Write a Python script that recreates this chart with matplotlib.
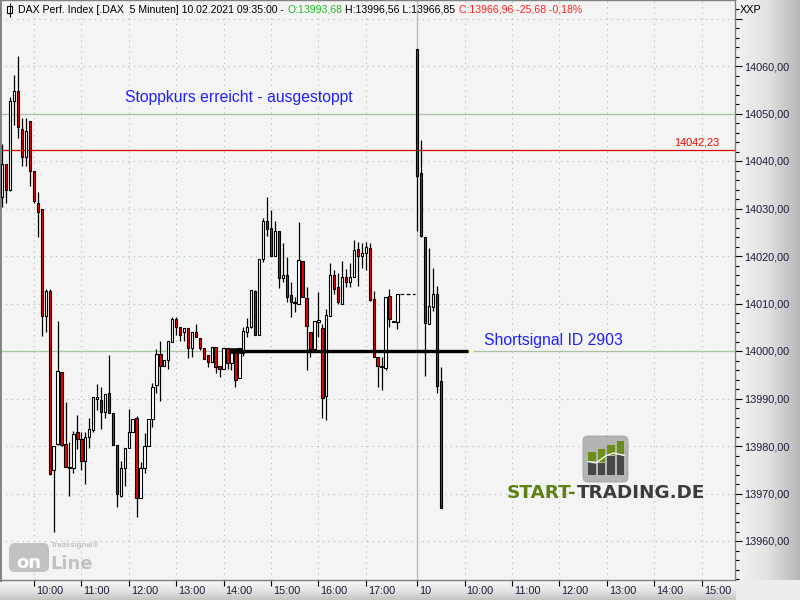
import numpy as np
import matplotlib
matplotlib.use("Agg")
import matplotlib.pyplot as plt
import matplotlib.transforms as mtransforms
from matplotlib.colors import LinearSegmentedColormap
from matplotlib.patches import FancyBboxPatch, Rectangle

plt.rcParams['font.family'] = ['Liberation Sans', 'DejaVu Sans']

# --- DAX 5 min candles, 09.02.2021 (09:20 .. 17:40) ---
day1_open = [14032.4, 14039.3, 14034.0, 14052.7, 14054.7, 14046.7, 14040.9, 14048.4, 14037.8, 14031.2,
             14029.8, 14007.4, 14012.7, 13974.9, 13980.5, 13995.6, 13980.4, 13975.3, 13975.3, 13982.9,
             13981.4, 13976.8, 13981.8, 13983.4, 13990.0, 13989.6, 13987.1, 13991.1, 13986.9, 13980.3,
             13969.5, 13975.3, 13979.6, 13982.9, 13986.0, 13969.0, 13975.3, 13979.9, 13985.6, 13992.8,
             13999.4, 13996.9, 13998.1, 14002.0, 14006.7, 14005.1, 14003.9, 14004.9, 14000.7, 14003.9,
             14002.8, 14000.7, 13999.2, 13997.6, 14000.8, 13996.9, 13996.3, 14000.7, 13997.5, 14000.4,
             13994.3, 13999.5, 14004.1, 14005.1, 14012.6, 14003.3, 14019.3, 14027.3, 14025.8, 14019.9,
             14025.3, 14015.4, 14015.9, 14011.7, 14010.3, 14009.8, 14018.9, 14011.2, 14003.9, 14000.5,
             14006.2, 14004.8, 13990.6, 14007.4, 14015.9, 14013.4, 14010.0, 14015.5, 14014.6, 14015.5,
             14021.4, 14020.1, 14020.6, 14021.6, 14010.9, 13998.7, 13996.8, 13996.5, 14011.5, 14006.1,
             14006.2]
day1_high = [14043.6, 14039.3, 14053.5, 14058.2, 14062.1, 14049.0, 14049.0, 14048.4, 14037.8, 14033.4,
             14029.8, 14013.0, 14013.0, 13979.9, 14006.3, 13995.6, 13989.3, 13980.8, 13983.1, 13986.5,
             13983.0, 13983.0, 13986.0, 13990.3, 13993.1, 13992.4, 13990.9, 13999.2, 13986.9, 13980.3,
             13976.9, 13979.5, 13987.8, 13985.6, 13986.3, 13976.7, 13982.7, 13985.6, 13993.3, 14000.4,
             14002.2, 13998.1, 14002.0, 14007.1, 14007.2, 14005.1, 14004.8, 14004.9, 14003.9, 14005.7,
             14002.8, 14000.7, 13999.2, 14000.8, 14000.8, 13996.9, 14000.7, 14000.7, 14000.5, 14000.5,
             14000.6, 14005.0, 14007.0, 14012.8, 14012.8, 14019.3, 14028.1, 14032.4, 14029.7, 14027.4,
             14025.3, 14022.7, 14019.7, 14014.6, 14011.4, 14027.2, 14018.9, 14013.5, 14003.9, 14006.3,
             14012.4, 14005.7, 14008.8, 14018.5, 14017.1, 14016.4, 14018.9, 14017.2, 14018.6, 14023.4,
             14023.0, 14022.8, 14022.9, 14022.7, 14012.6, 13998.7, 13998.8, 14011.4, 14013.1, 14006.1,
             14012.0]
day1_low = [14030.4, 14031.2, 14033.7, 14047.6, 14044.8, 14039.0, 14039.0, 14034.8, 14031.2, 14023.9,
            14003.2, 14004.0, 13973.9, 13961.8, 13980.2, 13979.9, 13975.5, 13969.5, 13974.3, 13979.3,
            13974.9, 13972.0, 13979.6, 13982.9, 13987.6, 13983.6, 13985.8, 13986.9, 13980.3, 13967.2,
            13969.3, 13971.6, 13979.6, 13982.9, 13965.1, 13969.0, 13974.3, 13979.9, 13984.1, 13991.1,
            13989.5, 13996.9, 13996.2, 14002.0, 14003.4, 14002.2, 14002.2, 13998.5, 13998.8, 14002.9,
            14000.2, 13998.4, 13996.7, 13997.6, 13995.3, 13994.6, 13996.3, 13996.3, 13996.0, 13992.5,
            13994.3, 13999.0, 14003.0, 14004.8, 14003.3, 14003.3, 14018.8, 14024.2, 14019.9, 14019.9,
            14013.3, 14014.6, 14010.3, 14007.2, 14008.3, 14009.8, 14011.4, 13995.9, 13998.8, 14000.2,
            14003.0, 13985.8, 13985.5, 14007.4, 14012.1, 14010.0, 14010.0, 14013.5, 14013.5, 14015.5,
            14013.7, 14017.4, 14017.1, 14010.5, 13998.8, 13992.5, 13991.8, 13996.1, 14005.1, 14006.1,
            14004.6]
day1_close = [14039.3, 14033.8, 14052.6, 14054.7, 14047.1, 14040.9, 14046.4, 14037.8, 14031.6, 14029.3,
              14007.4, 14012.7, 13974.1, 13979.9, 13995.7, 13980.2, 13975.5, 13975.6, 13982.5, 13981.4,
              13976.8, 13982.0, 13983.5, 13990.3, 13990.3, 13987.1, 13990.9, 13986.9, 13980.3, 13969.8,
              13975.3, 13979.5, 13982.9, 13985.6, 13969.0, 13975.3, 13979.9, 13985.6, 13992.5, 13999.3,
              13996.9, 13998.1, 14002.0, 14006.7, 14005.1, 14003.4, 14004.8, 14000.7, 14003.9, 14002.9,
              14000.7, 13998.4, 13997.6, 14000.8, 13996.7, 13996.3, 14000.7, 13997.5, 13999.9, 13993.9,
              14000.6, 14004.2, 14005.1, 14012.8, 14003.3, 14019.3, 14027.3, 14025.6, 14019.9, 14025.3,
              14015.4, 14016.1, 14011.4, 14010.3, 14010.1, 14019.1, 14011.4, 14005.3, 14000.5, 14006.3,
              14006.3, 13990.2, 14007.6, 14015.9, 14013.0, 14010.3, 14015.5, 14014.6, 14015.5, 14021.3,
              14020.1, 14020.6, 14021.8, 14010.8, 13998.8, 13996.9, 13996.6, 14011.4, 14006.8, 14006.1,
              14012.0]

# --- 10.02.2021 (09:00 .. 09:30) ---
day2_open = [14063.5, 14037.4, 14023.9, 14005.6, 14009.2, 14012.1, 13993.68]
day2_high = [14063.5, 14044.4, 14023.9, 14021.6, 14017.5, 14013.7, 13996.56]
day2_low = [14025.3, 14024.1, 13994.8, 14005.6, 14008.5, 13991.1, 13966.85]
day2_close = [14036.8, 14024.3, 14006.0, 14009.4, 14011.9, 13992.64, 13966.96]

stop_price = 14042.23
signal_price = 14000.0
level_lines = [14050.0, 14000.0]

day1_hours = ['10:00', '11:00', '12:00', '13:00', '14:00', '15:00', '16:00', '17:00']
day2_hours = ['10:00', '11:00', '12:00', '13:00', '14:00', '15:00']
day2_label = '10'

day1_first_bar = '09:20'
day2_first_bar = '09:00'
day2_first_slot = 105


def minutes(t):
    hh, mm = t.split(':')
    return int(hh) * 60 + int(mm)


def slot_day1(t):
    return (minutes(t) - minutes(day1_first_bar)) / 5


def slot_day2(t):
    return day2_first_slot + (minutes(t) - minutes(day2_first_bar)) / 5


def de(v):
    return f"{v:.2f}".replace('.', ',')


RED = '#ee0000'
GRIDC = '#a2c9a2'
LEVELC = '#a9c2a4'

fig = plt.figure(figsize=(8, 6), dpi=100)

# grey gradient bands for the axes
grad_h = np.linspace(0, 1, 256).reshape(1, -1)
grad_v = np.linspace(0, 1, 256).reshape(-1, 1)
rax = fig.add_axes([736 / 800, 20 / 600, 64 / 800, 580 / 600], zorder=0)
rax.imshow(grad_h, aspect='auto', extent=[0, 1, 0, 1],
           cmap=LinearSegmentedColormap.from_list('r', ['#f3f3f3', '#e2e2e2', '#b6b6b6']))
rax.axis('off')
bax = fig.add_axes([0, 0, 736 / 800, 20 / 600], zorder=0)
bax.imshow(grad_v, aspect='auto', extent=[0, 1, 0, 1],
           cmap=LinearSegmentedColormap.from_list('b', ['#f7f7f7', '#e6e6e6', '#c4c4c4']))
bax.axis('off')
cax = fig.add_axes([736 / 800, 0, 64 / 800, 20 / 600], zorder=0)
cax.set_facecolor('#ededed')
cax.set_xticks([])
cax.set_yticks([])
for s in cax.spines.values():
    s.set_visible(False)

ax = fig.add_axes([0, 20 / 600, 735 / 800, 580 / 600], zorder=2)
ax.set_facecolor('#f4f4f4')

# ticks first, limits afterwards (set_ticks may widen the view)
yt = np.arange(13950, 14071, 10)
ax.set_yticks(yt)
ax.set_yticklabels(['' if (v < 13955 or v > 14065) else de(v) for v in yt])
ax.set_yticks(np.arange(13952, 14074, 2), minor=True)
ax.yaxis.tick_right()
ax.tick_params(axis='y', which='major', length=5, width=0.8, pad=1.5,
               labelsize=7.8, labelcolor='#1c1c38', right=True, left=False)
ax.tick_params(axis='y', which='minor', length=3, width=0.8, right=True, left=False)

xt = [slot_day1(t) for t in day1_hours] + [day2_first_slot] + [slot_day2(t) for t in day2_hours]
xl = day1_hours + [day2_label] + day2_hours
ax.set_xticks(xt)
ax.set_xticklabels(xl)
ax.tick_params(axis='x', length=4, width=0.8, pad=0.5, labelsize=7.8, labelcolor='#1c1c38')
offset = mtransforms.ScaledTranslation(1.5 / 72, 0, fig.dpi_scale_trans)
for lab in ax.get_xticklabels():
    lab.set_ha('left')
    lab.set_transform(lab.get_transform() + offset)

px0, px_per_slot = 2.3, 3.951
ax.set_xlim(-px0 / px_per_slot, (735 - px0) / px_per_slot)
ax.set_ylim(14000 - 229 / 4.75, 14000 + 351 / 4.75)

ax.grid(True, which='major', linestyle=(0, (1, 4)), color=GRIDC, linewidth=0.8)
for s in ax.spines.values():
    s.set_color('#808080')
    s.set_linewidth(1.0)
ax.spines['left'].set_linewidth(2.0)

# horizontal levels and day separator
for lv in level_lines:
    ax.axhline(lv, color=LEVELC, lw=0.9, zorder=1)
ax.axvline(day2_first_slot, color=LEVELC, lw=0.9, zorder=1)
ax.axhline(stop_price, color='#dd0000', lw=0.9, zorder=2)


def draw_candles(slots, o, h, l, c):
    o, h, l, c = map(np.asarray, (o, h, l, c))
    ax.vlines(slots, l, h, color='black', lw=0.9, zorder=3)
    bottom = np.minimum(o, c)
    height = np.maximum(np.abs(c - o), 0.25)
    colors = ['white' if cc >= oo else RED for oo, cc in zip(o, c)]
    ax.bar(slots, height, bottom=bottom, width=0.6, color=colors,
           edgecolor='black', linewidth=0.8, zorder=4)


slots1 = np.arange(len(day1_open))
slots2 = day2_first_slot + np.arange(len(day2_open))
draw_candles(slots1, day1_open, day1_high, day1_low, day1_close)
draw_candles(slots2, day2_open, day2_high, day2_low, day2_close)

# last close carried over until the next session
ax.hlines(day1_close[-1], slots1[-1] + 0.6, day2_first_slot - 0.6, colors='black',
          linestyles=(0, (3, 2)), lw=0.9, zorder=3)

# short signal line
sig_start, sig_end = 57.6, 117.9
ax.hlines(signal_price, sig_start, sig_end, colors='black', lw=2.4, zorder=6)
ax.hlines(signal_price, sig_start, sig_start + 3.2, colors='black', lw=4.0, zorder=6)
ax.plot([sig_end + 0.8], [signal_price], 's', ms=3, mfc='#fbf6d2', mec='none', zorder=6)

ax.text(31.1, 14053.3, 'Stoppkurs erreicht - ausgestoppt', color='#2020ff',
        fontsize=11.3, va='center', ha='left', zorder=7)
ax.text(121.9, 14002.3, 'Shortsignal ID 2903', color='#2020ff',
        fontsize=11.3, va='center', ha='left', zorder=7)
ax.text(181.6, stop_price + 0.7, de(stop_price), color='#ee0000', fontsize=7.8,
        ha='right', va='bottom', zorder=7)

# overlay in pixel coordinates for header, watermark and logo
ov = fig.add_axes([0, 0, 1, 1], zorder=5)
ov.set_xlim(0, 800)
ov.set_ylim(600, 0)
ov.axis('off')
ov.patch.set_alpha(0)
renderer = fig.canvas.get_renderer()


def text_run(x, y, pieces, gap, **kw):
    for s, col in pieces:
        t = ov.text(x, y, s, color=col, va='center', ha='left', **kw)
        x = t.get_window_extent(renderer).x1 + gap


# header
ov.vlines(9.5, 3, 17, color='black', lw=0.8)
ov.add_patch(Rectangle((7, 6), 5, 7, facecolor='white', edgecolor='black', lw=0.8))
last_o, last_h, last_l, last_c = day2_open[-1], day2_high[-1], day2_low[-1], day2_close[-1]
chg = last_c - day2_close[-2]
pct = chg / day2_close[-2] * 100
text_run(18, 10, [('DAX Perf. Index [.DAX  5 Minuten] 10.02.2021 09:35:00 -', 'black'),
                  ('O:' + de(last_o), '#22bb22'),
                  ('H:' + de(last_h) + ' L:' + de(last_l), 'black'),
                  ('C:' + de(last_c) + ' ' + de(chg) + ' ' + de(pct) + '%', '#ff2020')],
         gap=3.2, fontsize=7.6)
ov.text(740, 10, 'XXP', color='black', fontsize=7.8, va='center', ha='left')

# Tradesignal online watermark
wm = '#c2c2c2'
ov.add_patch(FancyBboxPatch((9, 543), 40, 29, boxstyle='round,pad=0,rounding_size=6',
                            facecolor=wm, edgecolor='none'))
ov.text(29, 568, 'on', color='white', fontsize=13, fontweight='bold', ha='center',
        va='baseline', family='DejaVu Sans')
ov.text(50, 569, 'Line', color=wm, fontsize=13, fontweight='bold', ha='left',
        va='baseline', family='DejaVu Sans')
ov.text(51, 545.5, 'Tradesignal®', color=wm, fontsize=5.5, fontweight='bold', ha='left',
        va='center')

# START-TRADING.DE logo
ov.add_patch(FancyBboxPatch((583, 436), 45, 46, boxstyle='round,pad=0,rounding_size=5',
                            facecolor='#b4b4b4', edgecolor='#a0a0a0', lw=0.6))
bar_x = [588, 597.5, 607, 616.5]
bar_top = [451.5, 448.5, 445, 441]
bar_split = [461, 462, 455, 454]
for bx, bt, bs in zip(bar_x, bar_top, bar_split):
    ov.add_patch(Rectangle((bx, bt), 7.5, bs - bt, facecolor='#6b8f17', edgecolor='none'))
    ov.add_patch(Rectangle((bx, bs + 1.2), 7.5, 474.5 - bs - 1.2, facecolor='#474747', edgecolor='none'))
ov.plot([588, 596, 606, 614, 624], [461.6, 463, 455.5, 453, 455.5], color='white', lw=0.9)
text_run(507, 493, [('START-', '#5d7f14'), ('TRADING.DE', '#3c3c3c')], gap=0.5,
         fontsize=13.2, fontweight='bold', family='DejaVu Sans')

fig.savefig('out.png', dpi=100, facecolor='#f0f0f0')
